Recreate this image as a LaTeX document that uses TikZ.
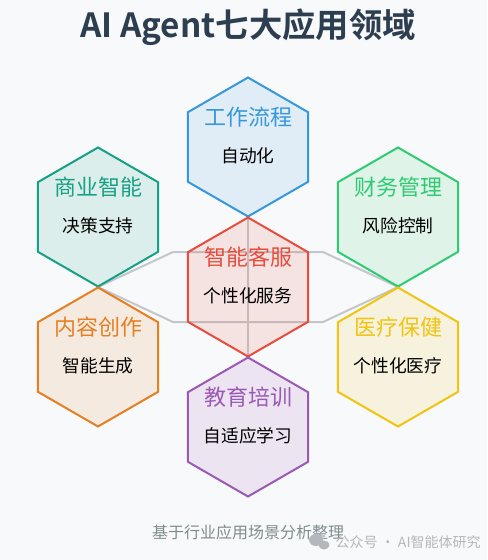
\documentclass[tikz,border=0pt]{standalone}
\usepackage{fontspec}
\setmainfont{Noto Sans CJK SC}[BoldFont={Noto Sans CJK SC Bold}]
\usetikzlibrary{calc,shapes.geometric}
\definecolor{pagebg}{HTML}{F8F9FA}
\definecolor{titledark}{HTML}{2C3E50}
\definecolor{linegray}{HTML}{C3C7CB}
\definecolor{footgray}{HTML}{7F8C8D}
\definecolor{markgray}{HTML}{B4B8BC}
\definecolor{wfblue}{HTML}{3498DB}
\definecolor{bizteal}{HTML}{16A085}
\definecolor{fingreen}{HTML}{2ECC71}
\definecolor{svcred}{HTML}{E74C3C}
\definecolor{creorange}{HTML}{E67E22}
\definecolor{medyellow}{HTML}{F1C40F}
\definecolor{edupurple}{HTML}{9B59B6}
\tikzset{
  hexcell/.style={regular polygon, regular polygon sides=6, shape border rotate=30,
    minimum size=104.25pt, inner sep=0pt, outer sep=0pt, draw=#1, fill=#1,
    fill opacity=0.12, line width=1.5pt},
  hextitle/.style={text=#1, inner sep=0pt, font=\fontsize{16.5}{18}\selectfont},
  hexsub/.style={text=black, inner sep=0pt, font=\fontsize{13.3}{15}\selectfont},
  link/.style={draw=linegray, line width=1.5pt}
}
\def\hexcell[#1](#2)(#3)#4#5{%
  \node[hexcell=#1] (#2) at (#3) {};
  \node[hextitle=#1] (#2-t) at ($(#2)+(0,-30)$) {#4};
  \node[hexsub] (#2-s) at ($(#2)+(0,9)$) {#5};}

\begin{document}
\begin{tikzpicture}[x=0.75pt,y=-0.75pt]
			%%%%% START %%%%%
			
			\fill[pagebg] (0,0) rectangle (487,560);
			\useasboundingbox (0,0) rectangle (487,560);
			
			\node[text=titledark, font=\bfseries\fontsize{25}{28}\selectfont] (title) at (248,27) {AI Agent七大应用领域};
			
			% links behind the cells
			\coordinate (lk-top) at (248,217);
			\coordinate (lk-bot) at (248,357);
			\coordinate (lk-w) at (98,287);
			\coordinate (lk-e) at (398,287);
			\coordinate (lk-nw) at (173,252);
			\coordinate (lk-ne) at (323,252);
			\coordinate (lk-sw) at (173,322);
			\coordinate (lk-se) at (323,322);
			\draw[link] (lk-w) -- (lk-nw) -- (lk-ne) -- (lk-e) -- (lk-se) -- (lk-sw) -- cycle;
			\draw[link] (lk-top) -- (lk-bot);
			
			% cells
			\hexcell[wfblue](workflow)(248,147){工作流程}{自动化}
			\hexcell[bizteal](business)(98,217){商业智能}{决策支持}
			\hexcell[fingreen](finance)(398,217){财务管理}{风险控制}
			\hexcell[svcred](service)(248,287){智能客服}{个性化服务}
			\hexcell[creorange](content)(98,357){内容创作}{智能生成}
			\hexcell[medyellow](medical)(398,357){医疗保健}{个性化医疗}
			\hexcell[edupurple](education)(248,427){教育培训}{自适应学习}
			
			\node[text=footgray, font=\fontsize{12}{14}\selectfont] (source) at (248,532) {基于行业应用场景分析整理};
			
			% watermark
			\fill[markgray] (316,540) ellipse (7 and 6);
			\fill[markgray] (324,545) ellipse (5.5 and 4.5);
			\node[text=markgray, anchor=west, font=\fontsize{10.5}{12}\selectfont] (mark) at (331,542) {公众号 · AI智能体研究};
			
			%%%%% END %%%%%
		\end{tikzpicture}
\end{document}
